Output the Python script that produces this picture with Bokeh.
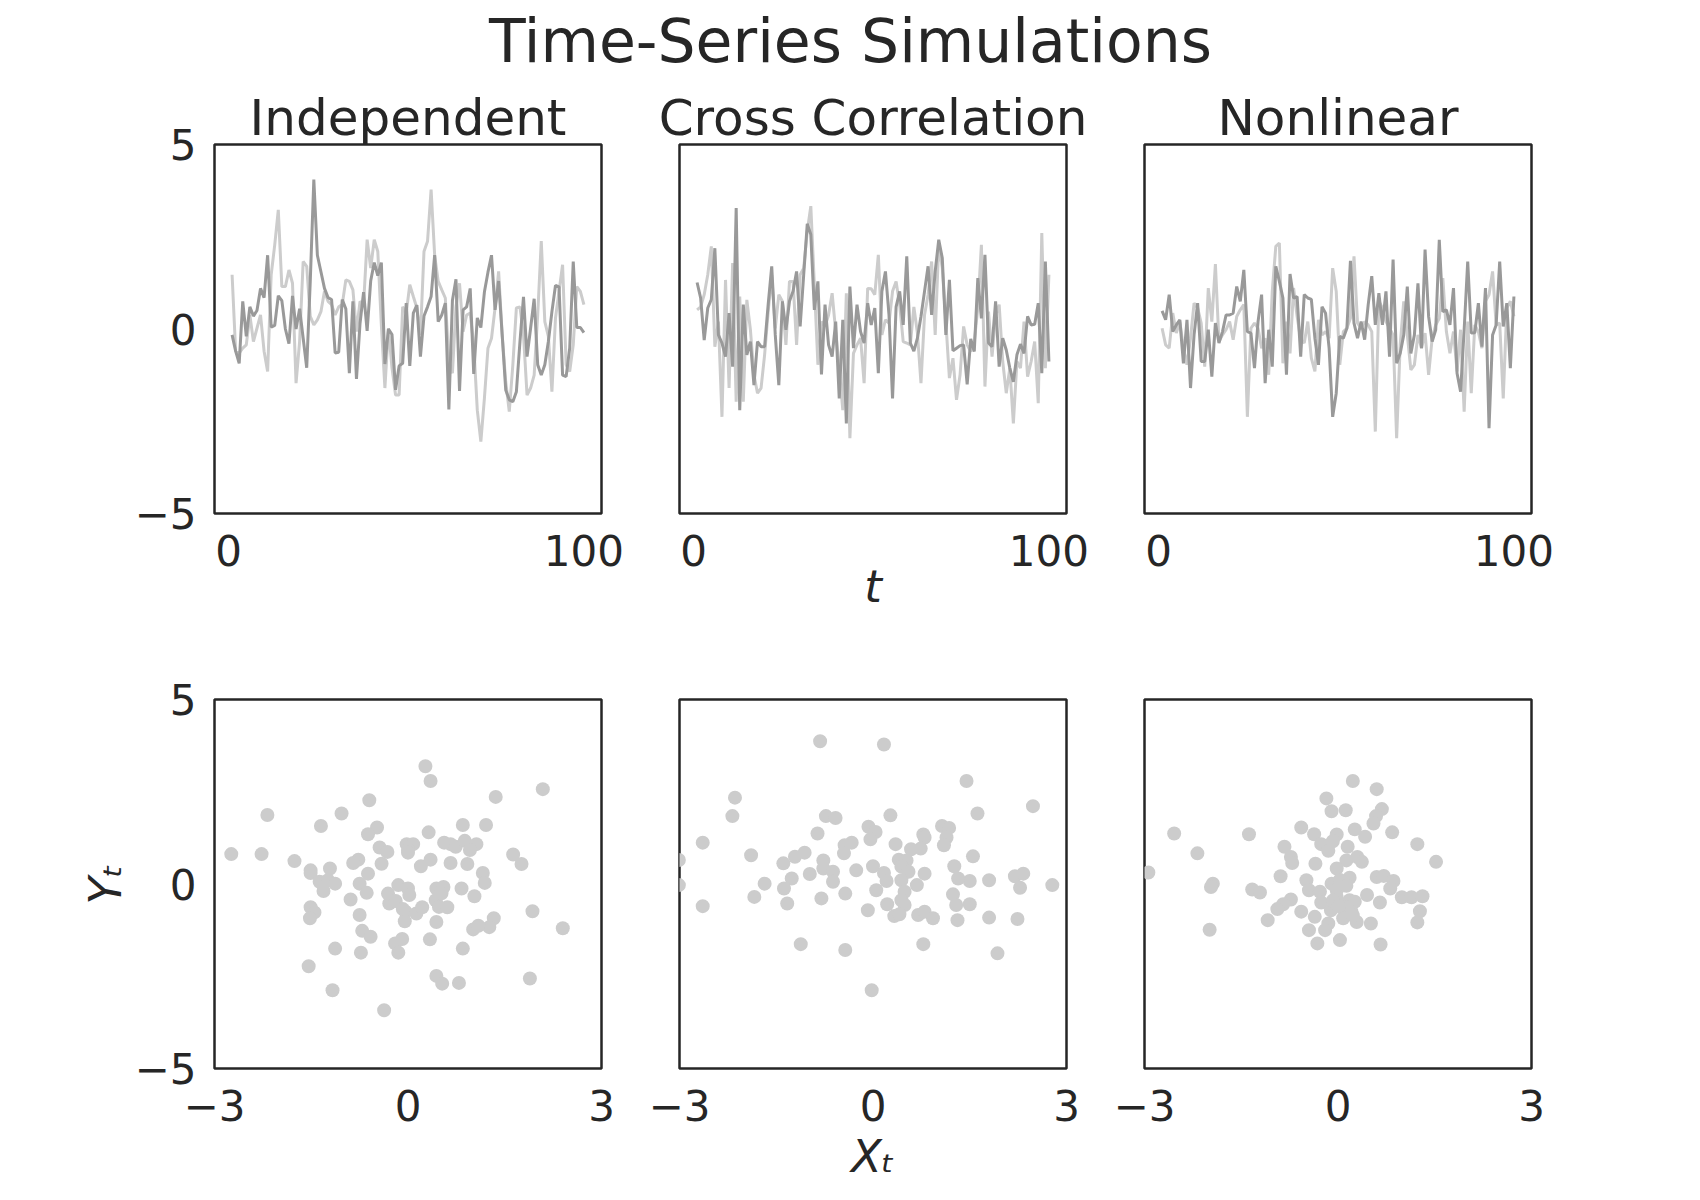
from bokeh.plotting import figure
from bokeh.layouts import row, column
from bokeh.models import FixedTicker, Label
from bokeh.embed import file_html
from bokeh.resources import INLINE

# ---------------- data ----------------
t = list(range(1, 101))

indep_dark = [-0.16, -0.6, -0.93, 0.75, -0.2, 0.6, 0.35, 0.5, 1.1, 0.85,
              2.0, 0.05, 0.1, 0.9, 0.77, 0.0, -0.4, 0.9, 0.0, 0.55,
              -0.25, -1.05, 1.3, 4.05, 2.0, 1.55, 1.1, 0.85, 0.8, -0.65,
              -0.63, 0.8, 0.55, -1.2, 0.75, -1.35, 0.15, 1.0, -0.05, 1.3,
              1.8, 1.45, 1.8, -0.95, 0.0, -0.15, -1.65, -1.0, -0.93, 0.7,
              -1.0, 0.43, 0.65, -0.75, 0.35, 0.6, 0.88, 2.0, 0.2, 0.38,
              0.7, -2.18, 0.77, 1.35, -1.68, 0.52, 0.6, 1.1, -1.22, 0.3,
              0.04, 1.0, 1.54, 2.0, 0.52, 1.3, -0.15, -1.65, -1.92, -1.97,
              -1.7, -0.35, 0.87, -0.75, 0.02, 0.82, -0.97, -1.25, -0.97, -0.34,
              0.47, 1.18, 1.14, -1.25, -1.29, -0.52, 1.83, 0.04, 0.04, -0.1]
indep_light = [1.47, -0.6, -0.65, -0.52, -0.43, 0.38, -0.34, 0.02, 0.38, -0.6,
               -1.15, 1.47, 2.28, 3.23, 1.15, 1.15, 1.6, 1.24, -1.47, -0.34,
               1.83, 1.7, 0.34, 0.11, 0.25, 0.47, 1.02, 0.75, 0.66, 0.38,
               0.6, 0.66, 1.33, 1.29, 1.06, -0.07, 0.75, 0.66, 2.42, 1.65,
               2.42, 2.1, 0.11, -1.6, 0.02, -1.06, -1.79, -1.79, 0.6, 0.43,
               1.2, 0.88, 0.57, -0.16, 2.1, 2.38, 3.78, 2.0, 1.29, 1.06,
               0.84, -0.88, -1.2, 0.6, 1.24, -0.07, 0.38, 0.43, -0.43, -2.2,
               -3.05, -1.88, -0.52, -0.25, 0.57, 1.56, -0.16, -1.43, -2.24, -0.97,
               0.57, 0.6, -0.16, -1.79, -1.6, -1.25, 0.38, 2.38, 0.2, -0.2,
               -1.7, 0.29, 1.02, 1.74, -0.97, -1.15, -0.43, 1.15, 1.02, 0.66]

cross_dark = [1.26, 0.84, -0.3, 0.57, 0.8, 2.19, -0.16, -0.38, -0.75, 0.43,
              -1.02, 3.28, -2.2, 0.66, -0.7, -0.34, -1.52, -0.34, -0.48, -0.48,
              0.66, 1.7, -0.16, -1.52, 0.75, -0.02, 0.75, 1.02, 1.56, 0.07,
              1.47, 2.85, 2.56, 0.52, 1.29, -1.23, 0.66, -0.43, -0.75, 0.2,
              -1.88, 0.25, -2.56, 1.15, -0.52, 0.66, -0.07, -0.38, 0.7, 0.11,
              0.57, -1.2, 1.02, 1.56, 0.38, -1.88, 0.6, 1.02, 0.11, 1.97,
              -0.38, -0.6, -0.25, 0.34, 1.02, 1.7, 0.38, 1.56, 2.42, 1.92,
              -0.16, 1.33, -0.59, -0.52, -0.45, -0.43, -1.5, -0.27, -0.61, 1.38,
              0.29, 2.01, -0.38, -0.48, 0.75, -1.02, -0.25, -0.57, -1.06, -1.43,
              -0.7, -0.41, -0.66, 0.34, 0.11, 0.13, 0.7, -1.2, 1.83, -0.88]
cross_light = [0.52, 0.6, 0.93, 1.47, 2.24, -0.48, 0.2, -2.38, 1.33, -1.6,
               1.79, -1.97, 0.88, -1.97, 0.79, -0.02, -1.24, -1.74, -1.6, -0.7,
               0.47, 1.47, 0.02, 0.93, 0.75, -0.43, 1.29, 1.29, -0.43, 1.47,
               1.65, 2.65, 3.33, 1.2, -0.97, 0.2, 0.07, 0.38, 0.97, -0.07,
               -1.06, -2.2, 0.97, -2.96, -0.66, -0.43, -0.25, -1.47, 1.1, 1.09,
               0.93, 2.01, -0.16, 0.25, 0.16, 1.02, 1.29, 0.66, -0.34, -0.38,
               -0.43, 0.6, -0.11, -1.47, 0.38, 0.93, 1.83, -0.16, 2.28, 1.65,
               0.2, -1.33, -0.79, -1.92, -1.24, 0.07, -0.43, -0.61, -0.34, 0.57,
               2.28, -1.56, 0.47, -0.75, 0.38, 0.66, -0.88, -1.74, -1.06, -2.56,
               -0.88, -1.06, 0.2, -1.29, -0.88, -0.34, -2.01, 2.6, -1.06, 1.47]

nonlin_dark = [0.49, 0.25, 0.93, -0.07, 0.11, 0.25, -0.93, 0.25, -1.6, -0.16,
               0.7, -0.88, -0.88, -0.02, -1.29, 0.16, -0.38, -0.07, 0.38, 0.38,
               0.43, 1.15, 0.75, 1.6, -0.07, -0.11, -1.06, 0.2, 0.93, -1.47,
               -0.02, -1.02, 1.7, 1.29, 0.84, -1.24, 1.49, 0.84, 0.88, -0.75,
               0.93, 0.84, 0.8, -0.25, -0.97, 0.6, 0.43, -0.52, -2.38, -1.74,
               -0.2, -0.25, 0.02, 1.85, 0.16, -0.25, 0.2, -0.29, 0.66, 1.43,
               0.11, 0.97, 0.11, 1.02, -0.75, 1.88, -0.93, -0.66, -0.16, 1.15,
               -0.66, -0.16, 1.24, -0.52, 2.15, 0.34, -0.34, -0.02, 2.42, 0.47,
               0.52, 0.11, 1.11, -1.2, -1.7, -0.02, 1.83, -0.11, -0.1, 0.7,
               -0.48, 1.11, -2.69, -0.16, 0.11, 1.83, 0.07, 0.7, -1.06, 0.88]
nonlin_light = [0.02, -0.43, -0.52, 0.43, -0.11, 0.2, -0.52, -0.97, -0.25, 0.7,
                0.57, 0.16, -1.02, 1.11, 0.2, 1.76, -0.34, -0.16, -0.02, 0.2,
                -0.29, 0.34, 0.52, 0.66, -2.38, 0.02, 0.16, 0.02, -0.52, -0.25,
                -1.24, 1.02, 2.24, 2.33, -0.93, 0.2, -0.66, 1.11, 0.34, -0.29,
                -0.38, 0.2, -0.79, -1.15, 0.25, -0.16, -0.07, -0.25, 1.65, 1.02,
                -0.97, -0.07, 0.02, 0.29, 1.97, 0.16, 0.02, 0.2, 0.11, -0.07,
                -2.78, 0.75, 0.57, 0.2, 0.02, -0.16, -2.96, -0.43, 0.75, -0.16,
                -1.11, -0.97, -0.16, -0.52, -0.11, -1.24, -0.25, 0.11, 0.29, 1.38,
                -0.07, -0.66, -0.07, -1.15, -0.02, -2.24, 0.2, -1.74, 0.11, -0.07,
                -0.52, 0.75, 0.93, 1.56, 0.11, 0.16, -1.88, 0.57, 0.75, 0.34]

indep_sx = [0.27, 0.35, 2.09, 1.36, -0.60, -2.18, -1.03, -1.35, 0.85, 1.21,
            -0.48, -0.62, 0.32, 0.56, 0.66, 0.74, 0.88, 1.06, 0.96, -0.02,
            0.08, 0.00, -0.44, -0.32, -2.74, -2.27, -1.76, -0.77, -0.85, -0.41,
            0.20, 0.35, 0.66, 0.92, 1.63, 1.76, -1.51, -1.21, -1.51, -0.62,
            1.16, 1.19, -1.37, -1.24, -1.13, -1.31, -0.75, -0.64, -0.89, -0.31,
            -0.15, 0.00, 0.02, 0.44, 0.55, 0.43, 0.48, 0.61, 0.83, 1.03,
            -0.29, -0.19, -0.04, 0.13, 0.22, -0.05, 0.44, -1.51, -1.45, -1.52,
            -0.75, 1.93, 2.40, 1.33, 1.26, 1.01, 1.09, -0.71, -0.58, 0.34,
            -0.20, -0.09, -0.15, -1.13, -0.73, 0.85, -1.54, 0.44, 0.53, 0.79,
            1.89, -1.17, -0.37, 0.00, 0.52, -0.08]
indep_sy = [3.19, 2.79, 2.57, 2.36, 2.27, 1.87, 1.91, 1.57, 1.60, 1.60,
            1.53, 1.35, 1.40, 1.12, 1.08, 1.01, 1.17, 1.08, 0.92, 1.08,
            1.08, 0.92, 0.99, 0.87, 0.81, 0.81, 0.62, 0.66, 0.57, 0.55,
            0.48, 0.66, 0.57, 0.54, 0.80, 0.54, 0.37, 0.42, 0.30, 0.28,
            0.30, 0.03, 0.06, 0.10, 0.01, -0.19, 0.01, -0.24, -0.42, -0.26,
            -0.03, -0.12, -0.30, -0.12, -0.08, -0.44, -0.62, -0.63, -0.12, -0.33,
            -0.53, -0.46, -0.75, -0.80, -0.63, -1.01, -1.03, -0.63, -0.77, -0.93,
            -0.84, -0.74, -1.20, -0.93, -1.17, -1.23, -1.13, -1.27, -1.43, -1.50,
            -1.61, -1.49, -1.86, -1.75, -1.86, -1.75, -2.23, -2.49, -2.70, -2.68,
            -2.56, -2.88, -3.42, 0.85, -0.25, -0.68]

cross_sx = [-0.82, 0.17, 1.45, -2.14, -2.18, 2.48, 1.62, -0.73, -0.58, 0.27,
            -0.07, 0.04, -0.04, -0.86, 1.07, 1.18, 1.14, 1.10, 0.78, 0.80,
            0.74, 0.59, 0.35, -2.64, -0.33, -0.44, -0.45, -1.89, -1.06, -1.21,
            -1.39, 1.55, 0.40, 0.52, -0.77, -0.77, -0.62, -0.98, -0.26, 0.00,
            0.17, 0.44, 0.55, 0.80, 1.26, 2.20, 2.33, 1.80, 1.50, 1.32,
            -3.01, -3.01, -1.68, -1.26, -1.38, -0.62, 0.21, 0.44, 0.68, 0.05,
            0.49, 2.28, 2.78, -1.84, -0.43, -0.80, -1.33, -2.64, 1.24, 1.29,
            1.50, 0.22, 0.44, 0.49, -0.08, 0.33, 0.41, 0.70, 0.80, 0.93,
            1.31, 1.80, 2.24, -1.12, -0.43, 0.78, 1.93, -0.02]
cross_sy = [3.87, 3.78, 2.79, 2.34, 1.84, 2.11, 1.91, 1.84, 1.79, 1.86,
            1.55, 1.41, 1.21, 1.37, 1.57, 1.52, 1.26, 1.05, 1.34, 1.26,
            0.96, 0.94, 1.08, 1.12, 1.12, 1.05, 0.83, 0.78, 0.85, 0.74,
            0.56, 0.75, 0.66, 0.64, 0.64, 0.42, 0.33, 0.27, 0.37, 0.48,
            0.30, 0.47, 0.33, 0.28, 0.48, 0.21, 0.28, 0.10, 0.08, 0.15,
            0.65, -0.03, 0.01, 0.15, -0.12, 0.06, 0.08, 0.10, -0.03, -0.17,
            -0.21, -0.10, -0.03, -0.35, -0.26, -0.39, -0.53, -0.60, -0.28, -0.57,
            -0.55, -0.55, -0.44, -0.57, -0.71, -0.87, -0.82, -0.84, -0.75, -0.93,
            -0.98, -0.91, -0.95, -1.63, -1.79, -1.63, -1.88, -2.88]

nonlin_sx = [0.23, 0.60, -0.18, -0.10, 0.12, 0.68, 0.59, 0.55, -0.57, -0.37,
             -0.02, 0.26, 0.42, 0.84, -2.54, -1.38, -0.83, -0.26, -0.15, -0.08,
             0.15, 1.23, -2.18, -0.73, -0.71, -0.35, 0.13, 0.30, 0.37, 1.52,
             -2.94, -0.02, 0.18, -0.89, -0.49, 0.60, 0.71, 0.86, -1.94, -1.97,
             -1.33, -1.21, -0.45, -0.28, -0.10, -0.02, 0.81, 0.45, 0.99, 1.14,
             1.31, 1.27, 1.23, -0.73, -0.85, -0.94, -0.26, 0.18, 0.26, -0.02,
             0.08, 0.65, -0.11, 0.21, -0.57, -0.36, 0.08, 0.29, 0.51, -1.09,
             -0.15, -0.20, -0.45, -1.99, -0.32, 0.03, 0.66, 0.03, -0.08, 0.13,
             0.23, 0.01]
nonlin_sy = [2.79, 2.57, 2.32, 1.97, 2.00, 2.03, 1.84, 1.64, 1.53, 1.35,
             1.34, 1.48, 1.28, 1.40, 1.37, 1.35, 1.01, 1.08, 0.90, 1.16,
             1.01, 1.08, 0.83, 0.73, 0.57, 0.55, 0.64, 0.73, 0.60, 0.60,
             0.31, 0.42, 0.17, 0.21, 0.10, 0.19, 0.22, 0.08, 0.01, -0.08,
             -0.15, -0.23, -0.17, -0.21, 0.01, -0.17, -0.12, -0.30, -0.36, -0.36,
             -0.33, -0.74, -1.04, -0.42, -0.55, -0.68, -0.50, -0.44, -0.48, -0.35,
             -0.62, -0.50, -0.71, -0.75, -0.75, -0.89, -0.93, -1.03, -1.07, -0.98,
             -1.07, -1.25, -1.25, -1.24, -1.61, -1.52, -1.64, 0.11, -0.45, -0.05,
             -0.85, -0.60]

suptitle = "Time-Series Simulations"
titles = ["Independent", "Cross Correlation", "Nonlinear"]
line_sets = [(indep_light, indep_dark), (cross_light, cross_dark), (nonlin_light, nonlin_dark)]
scatter_sets = [(indep_sx, indep_sy), (cross_sx, cross_sy), (nonlin_sx, nonlin_sy)]

# ---------------- style ----------------
FONT = "DejaVu Sans"
TXT = "#262626"
DARK = "#999999"
LIGHT = "#cccccc"
TICK_SIZE = "42px"
HEAD_H = 86


def minus(v):
    return ("\u2212" + str(abs(v))) if v < 0 else str(v)


def style(p, xticks, yticks, show_y):
    p.grid.visible = False
    p.outline_line_color = "#262626"
    p.outline_line_width = 2.5
    p.background_fill_color = "white"
    p.border_fill_color = "white"
    for ax in p.axis:
        ax.axis_line_color = None
        ax.major_tick_line_color = None
        ax.minor_tick_line_color = None
        ax.major_tick_in = 0
        ax.major_tick_out = 0
        ax.major_label_text_font = FONT
        ax.major_label_text_font_size = TICK_SIZE
        ax.major_label_text_color = TXT
        ax.axis_label_text_font = FONT
        ax.axis_label_text_font_size = "45px"
        ax.axis_label_text_font_style = "italic"
        ax.axis_label_text_color = TXT
    p.xaxis.ticker = FixedTicker(ticks=xticks)
    p.yaxis.ticker = FixedTicker(ticks=yticks)
    p.xaxis.major_label_overrides = {v: minus(v) for v in xticks}
    p.yaxis.major_label_overrides = {v: minus(v) for v in yticks}
    p.xaxis.major_label_standoff = 21
    p.yaxis.major_label_standoff = 18
    if not show_y:
        p.yaxis.visible = False


# ---- suptitle strip ----
head = figure(width=1700, height=HEAD_H, x_range=(0, 1), y_range=(0, 1),
              min_border_left=0, min_border_right=0, min_border_top=0, min_border_bottom=0,
              output_backend="svg", toolbar_location=None)
head.xaxis.visible = False
head.yaxis.visible = False
head.grid.visible = False
head.outline_line_color = None
head.add_layout(Label(x=850, y=HEAD_H - 40, x_units="screen", y_units="screen", text=suptitle,
                      text_align="center", text_baseline="middle",
                      text_font=FONT, text_font_size="60px", text_color=TXT))

widths = [640, 465, 595]
lefts = [214, 39, 39]
rights = [39, 39, 169]

top_figs = []
for i in range(3):
    p = figure(width=widths[i], height=620 - HEAD_H, x_range=(-3.95, 104.95), y_range=(-5, 5),
               min_border_left=lefts[i], min_border_right=rights[i],
               min_border_top=144 - HEAD_H, min_border_bottom=107,
               output_backend="svg", toolbar_location=None,
               title=titles[i])
    p.title.align = "center"
    p.title.text_font = FONT
    p.title.text_font_size = "50px"
    p.title.text_font_style = "normal"
    p.title.text_color = TXT
    p.title.standoff = -5
    light, dark = line_sets[i]
    p.line(t, light, line_color=LIGHT, line_width=3)
    p.line(t, dark, line_color=DARK, line_width=3)
    style(p, [0, 100], [-5, 0, 5], i == 0)
    if i == 1:
        p.xaxis.axis_label = "t"
        p.xaxis.axis_label_standoff = -9
    top_figs.append(p)

bot_figs = []
for i in range(3):
    p = figure(width=widths[i], height=580, x_range=(-3, 3), y_range=(-5, 5),
               min_border_left=lefts[i], min_border_right=rights[i],
               min_border_top=79, min_border_bottom=132,
               output_backend="svg", toolbar_location=None)
    sx, sy = scatter_sets[i]
    p.scatter(sx, sy, size=14, fill_color=LIGHT, line_color=None)
    style(p, [-3, 0, 3], [-5, 0, 5], i == 0)
    if i == 0:
        p.yaxis.axis_label = "Y\u209c"
        p.yaxis.axis_label_standoff = 0
    if i == 1:
        p.xaxis.axis_label = "X\u209c"
        p.xaxis.axis_label_standoff = 6
    bot_figs.append(p)

layout = column(head, row(*top_figs), row(*bot_figs))
open("out.html", "w").write(file_html(layout, INLINE))
